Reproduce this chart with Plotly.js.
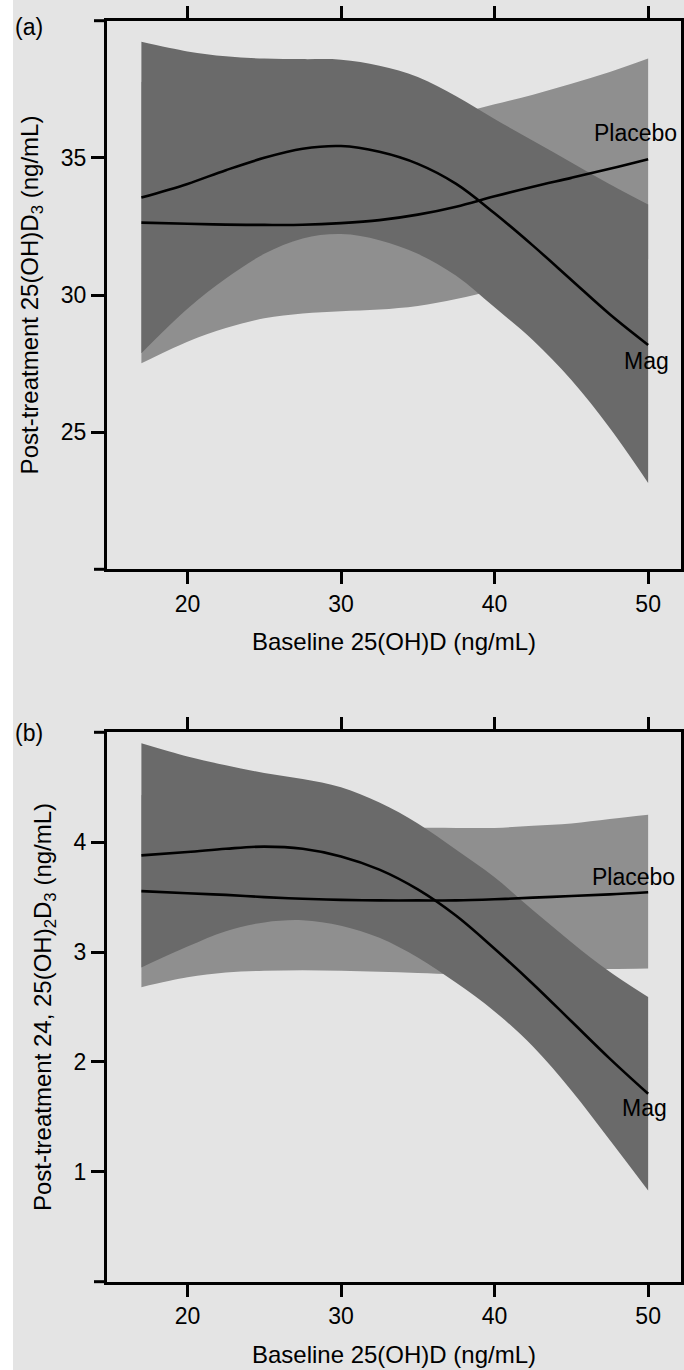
<!DOCTYPE html>
<html>
<head>
<meta charset="utf-8">
<script src="https://cdn.plot.ly/plotly-3.0.1.min.js"></script>
<style>
html,body{margin:0;padding:0;background:#e4e4e4;}
#chart{width:684px;height:1370px;}
</style>
</head>
<body>
<div id="chart"></div>
<script>
// Baseline 25(OH)D grid (ng/mL)
const baseline = [17, 20, 22.5, 25, 27.5, 30, 32.5, 35, 37.5, 40, 42.5, 45, 47.5, 50];

// Panel (a): post-treatment 25(OH)D3
const magFitA      = [33.55, 34.05, 34.55, 35.0, 35.33, 35.43, 35.22, 34.78, 34.05, 32.98, 31.8, 30.55, 29.3, 28.18];
const magUpperA    = [39.23, 38.88, 38.7, 38.62, 38.6, 38.58, 38.36, 37.95, 37.25, 36.42, 35.62, 34.83, 34.04, 33.3];
const magLowerA    = [27.88, 29.5, 30.6, 31.5, 32.06, 32.22, 32.0, 31.5, 30.7, 29.55, 28.35, 26.9, 25.15, 23.15];
const placeboFitA  = [32.64, 32.6, 32.565, 32.555, 32.56, 32.62, 32.73, 32.93, 33.22, 33.6, 33.95, 34.27, 34.6, 34.95];
const placeboUpperA= [37.77, 36.9, 36.33, 35.96, 35.79, 35.83, 35.99, 36.25, 36.59, 36.95, 37.3, 37.7, 38.13, 38.62];
const placeboLowerA= [27.51, 28.3, 28.8, 29.15, 29.33, 29.41, 29.47, 29.6, 29.85, 30.18, 30.5, 30.8, 31.07, 31.3];

// Panel (b): post-treatment 24,25(OH)2D3
const magFitB      = [3.88, 3.91, 3.94, 3.96, 3.94, 3.87, 3.75, 3.57, 3.33, 3.03, 2.71, 2.37, 2.03, 1.71];
const magUpperB    = [4.90, 4.78, 4.70, 4.63, 4.575, 4.50, 4.36, 4.17, 3.93, 3.68, 3.38, 3.09, 2.82, 2.59];
const magLowerB    = [2.86, 3.05, 3.19, 3.27, 3.29, 3.24, 3.13, 2.95, 2.72, 2.46, 2.14, 1.74, 1.29, 0.83];
const placeboFitB  = [3.555, 3.535, 3.52, 3.50, 3.485, 3.475, 3.47, 3.47, 3.47, 3.48, 3.495, 3.51, 3.525, 3.545];
const placeboUpperB= [4.43, 4.30, 4.22, 4.17, 4.135, 4.12, 4.12, 4.13, 4.13, 4.13, 4.15, 4.17, 4.21, 4.25];
const placeboLowerB= [2.68, 2.77, 2.815, 2.83, 2.835, 2.83, 2.82, 2.81, 2.80, 2.81, 2.82, 2.835, 2.845, 2.85];

// Tick labels
const xTicks  = [20, 30, 40, 50];
const yTicksA = [25, 30, 35];
const yTicksB = [1, 2, 3, 4];

const BG = '#e4e4e4';
const MAG_FILL = '#6a6a6a';
const PLA_FILL = '#8f8f8f';
const FONT = 'Liberation Sans, Arial, Helvetica, sans-serif';

function band(x, lo, hi, color, xa, ya, name) {
  return [
    {x: x, y: lo, xaxis: xa, yaxis: ya, type: 'scatter', mode: 'lines',
     line: {width: 0, shape: 'spline', color: color}, hoverinfo: 'skip', showlegend: false, name: name + ' lower'},
    {x: x, y: hi, xaxis: xa, yaxis: ya, type: 'scatter', mode: 'lines', fill: 'tonexty',
     fillcolor: color, line: {width: 0, shape: 'spline', color: color}, hoverinfo: 'skip', showlegend: false, name: name + ' upper'}
  ];
}
function fit(x, y, xa, ya, name) {
  return {x: x, y: y, xaxis: xa, yaxis: ya, type: 'scatter', mode: 'lines', name: name,
          line: {color: '#000000', width: 2.6, shape: 'spline'}, showlegend: false};
}

const traces = [].concat(
  band(baseline, placeboLowerA, placeboUpperA, PLA_FILL, 'x', 'y', 'Placebo'),
  band(baseline, magLowerA, magUpperA, MAG_FILL, 'x', 'y', 'Mag'),
  [fit(baseline, placeboFitA, 'x', 'y', 'Placebo'), fit(baseline, magFitA, 'x', 'y', 'Mag')],
  band(baseline, placeboLowerB, placeboUpperB, PLA_FILL, 'x2', 'y2', 'Placebo'),
  band(baseline, magLowerB, magUpperB, MAG_FILL, 'x2', 'y2', 'Mag'),
  [fit(baseline, placeboFitB, 'x2', 'y2', 'Placebo'), fit(baseline, magFitB, 'x2', 'y2', 'Mag')]
);

const W = 684, H = 1370;
const xDom = [107 / W, 681 / W];
const yDomA = [1 - 569.3 / H, 1 - 20.7 / H];
const yDomB = [1 - 1281.7 / H, 1 - 732.3 / H];
const xRange = [14.76, 52.14];

function xAxis(anchor) {
  return {
    domain: xDom, range: xRange, anchor: anchor,
    tickmode: 'array', tickvals: xTicks, ticktext: xTicks.map(String),
    ticks: 'outside', ticklen: 12, tickwidth: 3, tickcolor: '#000',
    showline: true, linewidth: 3, linecolor: '#000', mirror: 'ticks',
    showgrid: false, zeroline: false,
    tickfont: {family: FONT, size: 23, color: '#000'},
    title: {text: 'Baseline 25(OH)D (ng/mL)', font: {family: FONT, size: 24, color: '#000'}, standoff: 18}
  };
}
function yAxis(anchor, dom, range, ticks, title) {
  return {
    domain: dom, range: range, anchor: anchor,
    tickmode: 'array', tickvals: ticks, ticktext: ticks.map(String),
    ticks: 'outside', ticklen: 13, tickwidth: 3, tickcolor: '#000',
    showline: true, linewidth: 3, linecolor: '#000', mirror: 'ticks',
    showgrid: false, zeroline: false,
    tickfont: {family: FONT, size: 23, color: '#000'},
    title: {text: title, font: {family: FONT, size: 24, color: '#000'}, standoff: 16}
  };
}

const annFont = {family: FONT, size: 23, color: '#000'};
const layout = {
  width: W, height: H,
  margin: {l: 0, r: 0, t: 0, b: 0},
  paper_bgcolor: BG, plot_bgcolor: BG,
  showlegend: false,
  xaxis: xAxis('y'),
  yaxis: yAxis('x', yDomA, [20, 40], yTicksA, 'Post-treatment 25(OH)D<sub>3</sub> (ng/mL)'),
  xaxis2: xAxis('y2'),
  yaxis2: yAxis('x2', yDomB, [0, 5], yTicksB, 'Post-treatment 24, 25(OH)<sub>2</sub>D<sub>3</sub> (ng/mL)'),
  shapes: [
    {type: 'rect', xref: 'paper', yref: 'paper', x0: 0, x1: 13 / W, y0: 0, y1: 1, fillcolor: '#ffffff', line: {width: 0}, layer: 'below'},
    // axis-line extensions to the left of the y axes
    {type: 'line', xref: 'paper', yref: 'paper', x0: 94 / W, x1: xDom[0], y0: yDomA[0], y1: yDomA[0], line: {color: '#000', width: 3}},
    {type: 'line', xref: 'paper', yref: 'paper', x0: 94 / W, x1: xDom[0], y0: yDomA[1], y1: yDomA[1], line: {color: '#000', width: 3}},
    {type: 'line', xref: 'paper', yref: 'paper', x0: 94 / W, x1: xDom[0], y0: yDomB[0], y1: yDomB[0], line: {color: '#000', width: 3}},
    {type: 'line', xref: 'paper', yref: 'paper', x0: 94 / W, x1: xDom[0], y0: yDomB[1], y1: yDomB[1], line: {color: '#000', width: 3}}
  ],
  annotations: [
    {text: '(a)', xref: 'paper', yref: 'paper', x: 29 / W, y: 1 - 27 / H, showarrow: false, font: annFont, xanchor: 'center', yanchor: 'middle'},
    {text: '(b)', xref: 'paper', yref: 'paper', x: 29 / W, y: 1 - 733 / H, showarrow: false, font: annFont, xanchor: 'center', yanchor: 'middle'},
    {text: 'Placebo', xref: 'x', yref: 'y', x: 49.17, y: 35.89, showarrow: false, font: annFont, xanchor: 'center', yanchor: 'middle'},
    {text: 'Mag', xref: 'x', yref: 'y', x: 49.89, y: 27.6, showarrow: false, font: annFont, xanchor: 'center', yanchor: 'middle'},
    {text: 'Placebo', xref: 'x2', yref: 'y2', x: 49.04, y: 3.68, showarrow: false, font: annFont, xanchor: 'center', yanchor: 'middle'},
    {text: 'Mag', xref: 'x2', yref: 'y2', x: 49.79, y: 1.578, showarrow: false, font: annFont, xanchor: 'center', yanchor: 'middle'}
  ]
};

Plotly.newPlot('chart', traces, layout, {staticPlot: true, displayModeBar: false});
</script>
</body>
</html>
